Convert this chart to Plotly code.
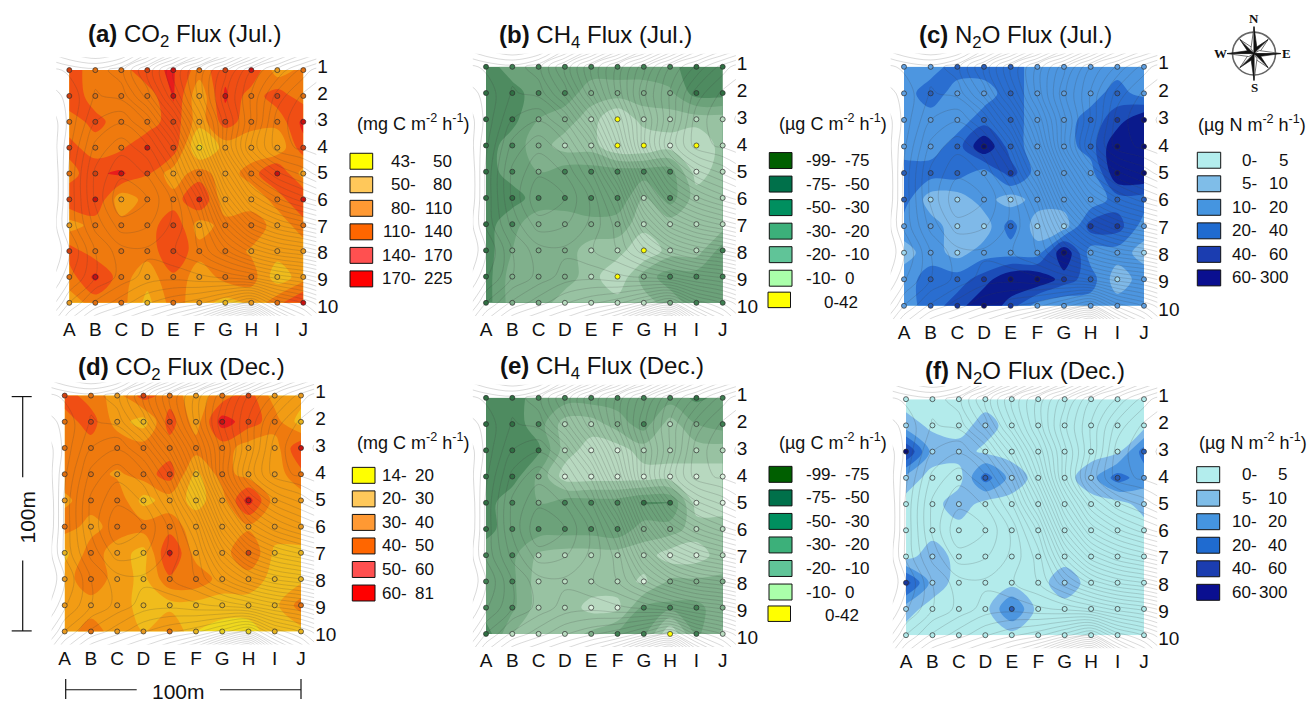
import math
import numpy as np
import plotly.graph_objects as go

W, H = 1309, 704
FONT = "Liberation Sans"
COLUMNS = list("ABCDEFGHIJ")
ROWS = [str(i) for i in range(1, 11)]

CO2_JUL = [
 [165,115,125,165,175,125,160,170, 92,120],
 [165,122,122,122,175, 85,180,122,158,122],
 [122,152,122,120,160, 92,155,122,120,185],
 [152,122,135,170,160, 48, 92, 88, 85,160],
 [125,165,180,142, 92,125, 92,125,180, 95],
 [165,170, 88,122,122,175, 88, 88,122,180],
 [ 95,122,122,122,165, 95,122,135, 92,125],
 [155,122,122,122,165,122,130,105, 92, 95],
 [125,185,122, 92,135, 92,120,125, 62, 95],
 [ 95,122,122, 70,125, 92, 70, 85,130,180],
]
CH4_JUL = [
 [-62,-40,-40,-40,-40,-40,-40,-45,-62,-62],
 [-62,-60,-40,-40,-25,-25,-25,-28,-62,-62],
 [-62,-58,-30,-25,-15,  3,-15,-15,-15,-15],
 [-62,-40,-25,-15,-15,  3,  3, -5,  3,-15],
 [-62,-40,-30,-40,-40,-40,-40,-40, -5,-15],
 [-62,-62,-40,-40,-40,-45,-20,-40,-15,-15],
 [-62,-35,-25,-25,-28,-25,-15,-15,-15,-15],
 [-62,-30,-25,-25,-15,-15,  2,-15,-15,-40],
 [-62,-25,-25,-25,-15,  1,-25,-40,-40,-40],
 [-62,-25,-25,-15,-15,-15,-15,-25,-40,-40],
]
N2O_JUL = [
 [ 15, 15, 30, 30, 30, 15, 15, 15, 15, 15],
 [ 15, 32, 15, 15, 30, 15, 15, 15, 30, 15],
 [ 15, 15, 15, 30, 30, 15, 15, 30, 50,300],
 [ 15, 15, 30,300, 30, 15, 15, 30,300,120],
 [ 30, 30, 30, 15, 50, 15, 15, 15,300,300],
 [ 30,  7,  7, 15,  7, 15, 15, 12, 30, 30],
 [ 15, 15,  7,  7, 30,  7,  7, 50, 50, 15],
 [  8, 15,  8, 15, 15, 15,300, 15, 15,  8],
 [ 15, 30, 30, 50,300,300, 50, 30,  7, 15],
 [ 15, 30, 50,300, 50, 15, 12, 15, 15, 15],
]
CO2_DEC = [
 [55,45,36,55,45,35,45,55,35,35],
 [45,55,35,25,55,35,70,55,45,25],
 [49,45,49,45,45,45,45,35,35,60],
 [45,45,38,45,55,27,45,35,35,47],
 [38,45,48,26,35,27,35,70,35,35],
 [45,36,45,45,45,35,35,38,35,35],
 [27,45,35,26,65,35,35,50,28,28],
 [35,48,35,27,48,48,35,35,27,27],
 [35,35,35,26,26,26,26,26,27,45],
 [35,45,35,30,42,20,17,17,26,26],
]
CH4_DEC = [
 [-62,-62,-40,-40,-40,-40,-40,-40,-55,-45],
 [-62,-62,-40,-15,-15,-25,-40,-15,-30,-40],
 [-62,-62,-55,-15, -5, -5,-15,-15,-15,-15],
 [-62,-62,-28, -5, -5, -5, -5, -5, -5, -5],
 [-62,-35,-30,-40,-40,-40,-52,-52, -5, -5],
 [-62,-35,-40,-40,-40,-45,-25,-25,-15,-15],
 [-35,-35,-18,-15,-15,-15,-15, -5, -5,-15],
 [-35,-35,-15,-15,-15,-15, -8,-22,-22,-22],
 [-35,-35,-15,-15, -7, -7,-35,-35,-35,-25],
 [-65,-20,-15,-15,-22,-35,-35,  1,-35,-18],
]
N2O_DEC = [
 [ 3, 3, 3, 3, 3, 3, 3, 3, 3, 3],
 [ 7, 4, 3, 7, 3, 3, 3, 3, 3, 3],
 [100,8, 7, 4, 3, 3, 3, 3, 4,30],
 [ 8, 3, 3,30, 8, 3, 3, 8,30,14],
 [ 3, 3, 8, 3, 3, 3, 3, 3, 3, 7],
 [ 3, 3, 3, 3, 3, 3, 3, 3, 3, 3],
 [ 3, 8, 3, 3, 3, 3, 3, 3, 3, 3],
 [50, 8, 3, 3, 3, 3, 8, 3, 3, 3],
 [ 7, 3, 3, 3,25, 3, 3, 3, 3, 3],
 [ 3, 3, 3, 3, 3, 3, 3, 3, 3, 3],
]
TOPO_X = [-0.6, 0, 1, 2, 3, 4, 5, 6, 7, 8, 9, 9.6]
TOPO_Y = [-0.6, 0, 1, 2, 3, 4, 5, 6, 7, 8, 9, 9.6]
TOPO = [
 [6.0,5.6,5.2,5.6,7.0,8.5,10.0,11.5,13.0,14.5,15.5,16.0],
 [7.0,6.8,6.6,7.2,8.8,10.5,12.0,13.5,15.0,16.0,17.0,17.5],
 [7.5,7.2,6.4,6.6,8.0,10.0,12.0,14.0,15.5,17.0,17.8,18.0],
 [8.0,7.2,6.0,5.6,6.5,8.5,11.0,13.5,15.5,17.5,18.0,18.2],
 [8.0,7.0,5.4,4.8,5.4,7.0,10.0,13.5,16.0,17.5,17.8,18.0],
 [8.2,6.8,5.0,4.3,4.7,6.0,8.5,12.0,14.5,15.8,16.5,17.0],
 [8.2,6.8,5.0,3.8,4.2,5.2,7.0,10.5,12.8,14.0,14.8,15.2],
 [8.0,6.8,5.4,4.4,4.6,5.2,6.2,8.8,10.8,11.8,12.4,12.8],
 [8.2,7.4,6.0,5.3,5.2,5.5,6.0,7.2,8.4,9.2,9.6,10.0],
 [7.8,7.0,6.0,5.4,4.9,4.8,5.0,5.2,5.6,6.2,6.6,7.0],
 [7.0,6.0,5.0,4.4,3.8,3.4,3.0,2.2,1.2,3.0,3.8,4.4],
 [6.2,5.2,4.0,3.4,2.8,2.0,1.0,-1.0,-2.5,1.0,2.6,3.6],
]

CO2_JUL_BINS = [43, 50, 80, 110, 140, 170, 225]
CO2_DEC_BINS = [14, 20, 30, 40, 50, 60, 81]
CH4_BINS = [-99, -75, -50, -30, -20, -10, 0, 42]
N2O_BINS = [0, 5, 10, 20, 40, 60, 300]

CO2_KEY = ["#FFFF00", "#FFC85A", "#FF9933", "#FF6600", "#FF5050", "#FF0000"]
CH4_KEY = ["#005F00", "#00704A", "#008F5F", "#3CB07A", "#60C498", "#AAFFAA", "#FFFF00"]
N2O_KEY = ["#B3EDED", "#7FBDE8", "#4595E0", "#1F6BD0", "#1B3DB0", "#0A0F90"]
CO2_MAP = ["#EFD81E", "#F0BC1C", "#F29C14", "#EF7A0E", "#F04E14", "#E81C1C"]
CH4_MAP = ["#3F7F52", "#4E8B60", "#6CA27A", "#80B08C", "#98C2A2", "#B7D8BF", "#B7D8BF"]
N2O_MAP = ["#B3EBEB", "#7FB9E8", "#4D96E0", "#2A6ED0", "#1C4DB8", "#0A1A8C"]
CO2_DOT = ["#E8D020", "#E8B420", "#E89A20", "#E07010", "#D04010", "#C81010"]
CH4_DOT = ["#1F5F32", "#2F6F42", "#3F7F52", "#7FAF8A", "#BBDDC2", "#DDF2E0", "#FFFF00"]
N2O_DOT = ["#B3EBEB", "#A0D8F0", "#5F9FE0", "#2A5EB8", "#18359A", "#0A0F70"]

UNIT_C = "(mg C m<sup>-2</sup> h<sup>-1</sup>)"
UNIT_M = "(µg C m<sup>-2</sup> h<sup>-1</sup>)"
UNIT_N = "(µg N m<sup>-2</sup> h<sup>-1</sup>)"

PANELS = [
 dict(z=CO2_JUL, bins=CO2_JUL_BINS, key=CO2_KEY, cmap=CO2_MAP, dot=CO2_DOT, box=(69.3,303.3,69.3,302.7),
      title="<b>(a)</b> CO<sub>2</sub> Flux (Jul.)", tpos=(184,35), unit=UNIT_C, upos=(413,122),
      sw=(350,372.7,152.7), lo=418, hi=454, hi_anchor="right"),
 dict(z=CH4_JUL, bins=CH4_BINS, key=CH4_KEY, cmap=CH4_MAP, dot=CH4_DOT, box=(486,722.7,66,302.7),
      title="<b>(b)</b> CH<sub>4</sub> Flux (Jul.)", tpos=(595,36), unit=UNIT_M, upos=(833,122),
      sw=(769.3,792,152), lo=838, hi=843, hi_anchor="left", last=(768,790.5,292,841,302.7)),
 dict(z=N2O_JUL, bins=N2O_BINS, key=N2O_KEY, cmap=N2O_MAP, dot=N2O_DOT, box=(904,1144,66,305.7),
      title="<b>(c)</b> N<sub>2</sub>O Flux (Jul.)", tpos=(1015,35.7), unit=UNIT_N, upos=(1252,122.7),
      sw=(1197.3,1220.7,151.7), lo=1259, hi=1290, hi_anchor="right"),
 dict(z=CO2_DEC, bins=CO2_DEC_BINS, key=CO2_KEY, cmap=CO2_MAP, dot=CO2_DOT, box=(64.7,301,395.7,632.3),
      title="<b>(d)</b> CO<sub>2</sub> Flux (Dec.)", tpos=(181.7,369), unit=UNIT_C, upos=(413,441.7),
      sw=(352.3,375,467.7), lo=409, hi=436, hi_anchor="right"),
 dict(z=CH4_DEC, bins=CH4_BINS, key=CH4_KEY, cmap=CH4_MAP, dot=CH4_DOT, box=(486,722.7,398,634.7),
      title="<b>(e)</b> CH<sub>4</sub> Flux (Dec.)", tpos=(601.7,368), unit=UNIT_M, upos=(833,441.7),
      sw=(769,792,466.7), lo=838, hi=843, hi_anchor="left", last=(768,790.5,606.7,841.7,616.7)),
 dict(z=N2O_DEC, bins=N2O_BINS, key=N2O_KEY, cmap=N2O_MAP, dot=N2O_DOT, box=(906,1144,399.3,636),
      title="<b>(f)</b> N<sub>2</sub>O Flux (Dec.)", tpos=(1025,373), unit=UNIT_N, upos=(1252.7,441.7),
      sw=(1196.7,1219.7,467), lo=1259, hi=1289, hi_anchor="right"),
]

def px(x): return x / W
def py(y): return 1 - y / H

fig = go.Figure()
shapes, notes = [], []

def text(x, y, s, size=17, anchor="center", color="#111", angle=0, family=FONT):
    notes.append(dict(x=px(x), y=py(y), xref="paper", yref="paper", text=s, showarrow=False,
                      xanchor=anchor, yanchor="middle", textangle=angle,
                      font=dict(family=family, size=size, color=color)))

def segment(x0, y0, x1, y1, width=1.2):
    shapes.append(dict(type="line", xref="paper", yref="paper", x0=px(x0), y0=py(y0), x1=px(x1), y1=py(y1),
                       line=dict(color="#111", width=width)))

for n, p in enumerate(PANELS, 1):
    x0, x1, y0, y1 = p["box"]
    dx, dy = (x1 - x0) / 9, (y1 - y0) / 9
    xa, ya = f"x{n}", f"y{n}"
    bins = p["bins"]
    nclass = len(bins) - 1
    vals = np.array(p["z"], dtype=float)
    idx = np.interp(vals, bins, np.arange(nclass + 1))
    scale = []
    for i, c in enumerate(p["cmap"]):
        scale += [[i / nclass, c], [(i + 1) / nclass, c]]
    fig.add_trace(go.Contour(x=list(range(10)), y=list(range(10)), z=idx, xaxis=xa, yaxis=ya,
                             autocontour=False, zmin=0, zmax=nclass, colorscale=scale, showscale=False,
                             contours=dict(start=1, end=nclass - 1, size=1, coloring="fill", showlines=False),
                             line=dict(width=0, smoothing=1.0), hoverinfo="skip"))
    fig.add_trace(go.Contour(x=TOPO_X, y=TOPO_Y, z=TOPO, xaxis=xa, yaxis=ya, autocontour=False,
                             colorscale=[[0, "rgba(60,60,60,0.3)"], [1, "rgba(60,60,60,0.3)"]],
                             showscale=False, contours=dict(start=-3, end=20, size=0.45, coloring="lines"),
                             line=dict(width=0.65, smoothing=1.0), hoverinfo="skip"))
    gx, gy = np.meshgrid(np.arange(10), np.arange(10))
    klass = np.clip(np.digitize(vals, bins) - 1, 0, nclass - 1)
    fig.add_trace(go.Scatter(x=gx.ravel(), y=gy.ravel(), mode="markers", xaxis=xa, yaxis=ya,
                             marker=dict(size=5, color=[p["dot"][k] for k in klass.ravel()],
                                         line=dict(color="rgba(45,45,45,0.7)", width=1)),
                             hoverinfo="skip"))
    suffix = "" if n == 1 else str(n)
    fig.layout["xaxis" + suffix] = dict(domain=[px(x0 - dx / 2), px(x1 + dx / 2)], range=[-0.5, 9.5], anchor=ya,
                                        tickmode="array", tickvals=list(range(10)), ticktext=COLUMNS,
                                        showgrid=False, zeroline=False, showline=False, ticks="", ticklen=0,
                                        tickfont=dict(family=FONT, size=19, color="#111"))
    fig.layout["yaxis" + suffix] = dict(domain=[py(y1 + dy / 2), py(y0 - dy / 2)], range=[9.5, -0.5], anchor=xa,
                                        side="right", tickmode="array",
                                        tickvals=list(np.arange(10) * 1.03 - 0.15), ticktext=ROWS,
                                        showgrid=False, zeroline=False, showline=False, ticks="",
                                        tickfont=dict(family=FONT, size=19, color="#111"))
    text(p["tpos"][0], p["tpos"][1], p["title"], size=24)
    text(p["upos"][0], p["upos"][1], p["unit"], size=18)
    sx0, sx1, sy = p["sw"]
    for i in range(nclass):
        yellow_row = "last" in p and i == nclass - 1
        if yellow_row:
            a0, a1, top, tx, ty = p["last"]
            bottom = top + 15.5
        else:
            a0, a1, top = sx0, sx1, sy + 23.6 * i
            bottom = top + 16
            ty = (top + bottom) / 2
        shapes.append(dict(type="rect", xref="paper", yref="paper", x0=px(a0), x1=px(a1), y0=py(top), y1=py(bottom),
                           fillcolor=p["key"][i], line=dict(color="#111", width=1)))
        if yellow_row:
            text(tx, ty, f"{bins[i]}-{bins[i + 1]}")
        else:
            text(p["lo"], ty, f"{bins[i]}-", anchor="right")
            text(p["hi"], ty, f"{bins[i + 1]}", anchor=p["hi_anchor"])

# scale bars
segment(22.7, 396.7, 22.7, 477.7); segment(22.7, 561, 22.7, 631.7)
segment(11.7, 396.7, 31.7, 396.7); segment(11.7, 631.7, 31.7, 631.7)
segment(65.7, 690.7, 136.7, 690.7); segment(220, 690.7, 301, 690.7)
segment(65.7, 680, 65.7, 700); segment(301, 680, 301, 700)
text(28, 518, "100m", size=21, angle=-90)
text(178, 692.5, "100m", size=21)

# compass
cx, cy, ring = 1254, 52.7, 21.5
def pt(r, deg):
    a = math.radians(deg)
    return cx + r * math.sin(a), cy - r * math.cos(a)
def poly(points, fill):
    d = "M " + " L ".join(f"{px(a):.5f},{py(b):.5f}" for a, b in points) + " Z"
    shapes.append(dict(type="path", xref="paper", yref="paper", path=d, fillcolor=fill,
                       line=dict(color="#111", width=0.6)))
shapes.append(dict(type="circle", xref="paper", yref="paper", x0=px(cx - ring), x1=px(cx + ring),
                   y0=py(cy + ring), y1=py(cy - ring), fillcolor="#fff", line=dict(color="#666", width=1.6)))
for deg in range(45, 360, 90):
    poly([(cx, cy), pt(6, deg - 30), pt(20, deg)], "#111")
    poly([(cx, cy), pt(6, deg + 30), pt(20, deg)], "#fff")
for deg in range(0, 360, 90):
    poly([(cx, cy), pt(6, deg - 30), pt(27, deg)], "#fff")
    poly([(cx, cy), pt(6, deg + 30), pt(27, deg)], "#111")
for s, x, y in [("N", 1254, 18), ("S", 1254, 87), ("W", 1220, 52.7), ("E", 1286, 52.7)]:
    text(x, y, f"<b>{s}</b>", size=13, family="Liberation Serif")

fig.update_layout(width=W, height=H, margin=dict(l=0, r=0, t=0, b=0), autosize=False,
                  plot_bgcolor="rgba(0,0,0,0)", paper_bgcolor="#fff", showlegend=False,
                  shapes=shapes, annotations=notes)
fig.write_html("out.html", config=dict(displayModeBar=False),
               post_script="document.body.style.margin='0';document.documentElement.style.overflow='hidden';")
